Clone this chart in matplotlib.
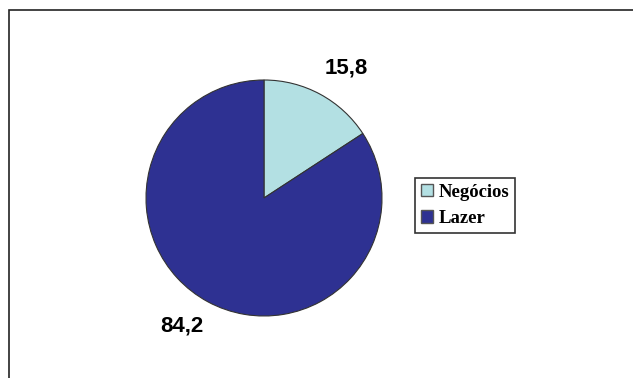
import matplotlib.pyplot as plt
from matplotlib.patches import Rectangle

# data
categories = ['Negócios', 'Lazer']
values = [15.8, 84.2]
colors = ['#B3E0E3', '#2E3192']

W, H = 633, 378
fig = plt.figure(figsize=(W / 100, H / 100), dpi=100)
fig.patch.set_facecolor('white')

# outer frame (only top and left edges visible)
fig.patches.append(Rectangle((9 / W, -0.1), 1.2, 1 - 10 / H + 0.1,
                             transform=fig.transFigure, fill=False,
                             edgecolor='#222222', linewidth=1.2))

# pie axes: centre (264, 198) px, radius 118 px
cx, cy, r = 264, 198, 118
ax = fig.add_axes([(cx - r) / W, (H - cy - r) / H, 2 * r / W, 2 * r / H])
wedges, _ = ax.pie(values, colors=colors, startangle=90, counterclock=False,
                   radius=1.0, wedgeprops=dict(edgecolor='#333333', linewidth=0.8))
ax.set_xlim(-1, 1)
ax.set_ylim(-1, 1)
ax.set_aspect('auto')
ax.axis('off')

label_pos = [(0.70, 1.10), (-0.70, -1.085)]
for v, (x, y) in zip(values, label_pos):
    ax.text(x, y, f"{v:.1f}".replace('.', ','), ha='center', va='center',
            fontsize=16, fontweight='bold', family='Liberation Sans',
            clip_on=False)

leg = fig.legend(wedges, categories, loc='upper left',
                 bbox_to_anchor=(415 / W, 1 - 178 / H), borderaxespad=0,
                 prop=dict(family='Liberation Serif', weight='bold', size=13.5),
                 fancybox=False, framealpha=1, edgecolor='#333333',
                 handlelength=0.65, handleheight=0.65, handletextpad=0.3,
                 borderpad=0.3, labelspacing=0.5)
leg.get_frame().set_linewidth(1.2)
for h in leg.legend_handles:
    h.set_edgecolor('#555555')
    h.set_linewidth(1.0)

fig.savefig('out.png', dpi=100)
